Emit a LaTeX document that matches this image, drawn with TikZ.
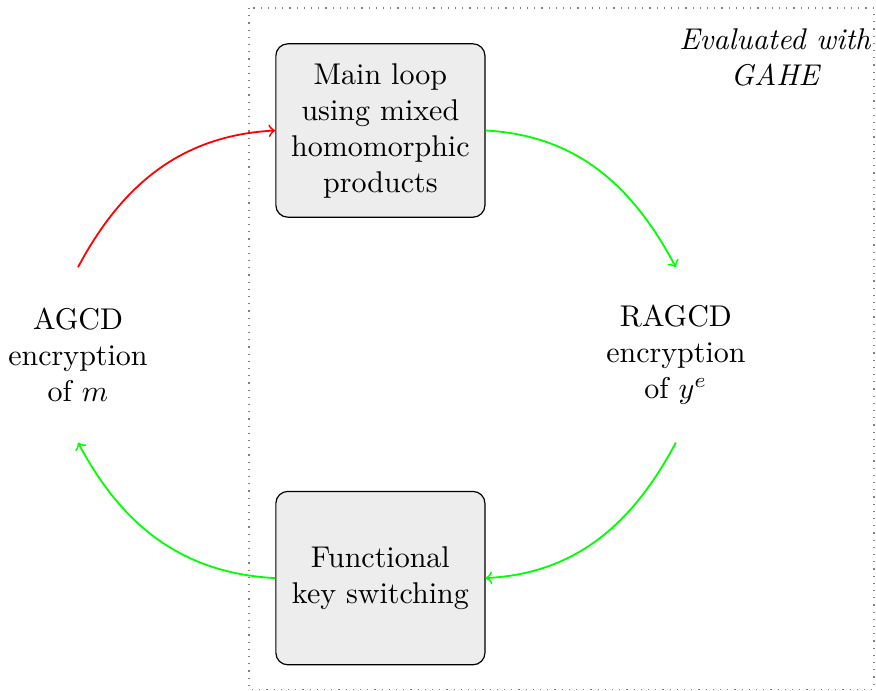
\documentclass[tikz,border=0pt]{standalone}
\begin{document}
\begin{tikzpicture}[x=1pt,y=1pt,
  stage/.style={draw=black, fill=gray!14, rounded corners=4pt, minimum width=69.7pt, minimum height=57.8pt, align=center, inner sep=2pt},
  enc/.style={minimum width=69.7pt, minimum height=58pt, align=center, inner sep=2pt},
  flow/.style={->, semithick}]
\useasboundingbox (0,0) rectangle (292,-230.33);
\draw[gray, dotted] (83,-2.67) rectangle (291.3,-229.7);
\node[stage] (top) at (126.8,-43.5) {Main loop\\using mixed\\homomorphic\\products};
\node[stage] (bot) at (126.8,-192.7) {Functional\\key switching};
\node[enc] (left) at (26,-118.3) {AGCD\\encryption\\of $m$};
\node[enc] (right) at (225.3,-118.3) {RAGCD\\encryption\\of $y^e$};
\node[align=center, font=\itshape] (lbl) at (258.3,-19) {Evaluated with\\GAHE};
\draw[flow, red] (left.north) to[out=62, in=183] (top.west);
\draw[flow, green] (top.east) to[out=-3, in=118] (right.north);
\draw[flow, green] (right.south) to[out=-118, in=3] (bot.east);
\draw[flow, green] (bot.west) to[out=177, in=-62] (left.south);
\end{tikzpicture}
\end{document}
